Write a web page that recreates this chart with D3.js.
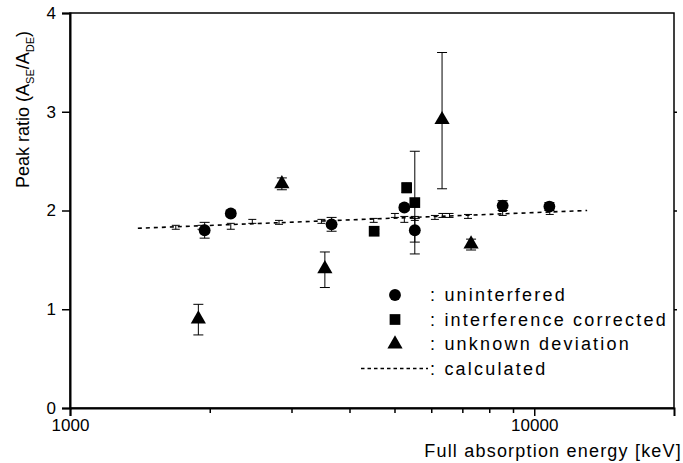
<!DOCTYPE html>
<html>
<head>
<meta charset="utf-8">
<script src="https://cdn.jsdelivr.net/npm/d3@7"></script>
<style>
  body { margin: 0; background: #fff; }
  svg text { font-family: "Liberation Sans", Arial, sans-serif; fill: #000; }
</style>
</head>
<body>
<svg width="683" height="463"></svg>
<script>
// measured points
const unintE   = [1950, 2220, 3660, 5250, 5530, 8550, 10780];
const unintY   = [1.80, 1.97, 1.86, 2.03, 1.80, 2.05, 2.04];
const unintErr = [0.08, 0.03, 0.07, 0.03, 0.12, 0.05, 0.04];

const corrE   = [4520, 5310, 5530];
const corrY   = [1.79, 2.23, 2.08];
const corrErr = [0.02, 0.05, 0.52];

const unknE     = [1890, 2860, 3540, 6330, 7310];
const unknY     = [0.90, 2.27, 1.41, 2.92, 1.66];
const unknErrLo = [0.16, 0.06, 0.19, 0.70, 0.06];
const unknErrHi = [0.15, 0.06, 0.17, 0.68, 0.05];

// calculated values
const calcE   = [1690, 1920, 2220, 2470, 2820, 3480, 4510, 5010, 5250, 5530, 6110, 6340, 6570, 7200, 8550, 10800];
const calcY   = [1.83, 1.83, 1.84, 1.89, 1.88, 1.89, 1.90, 1.95, 1.91, 1.92, 1.93, 1.95, 1.95, 1.94, 1.97, 1.98];
const calcErr = [0.02, 0.02, 0.03, 0.02, 0.02, 0.02, 0.02, 0.02, 0.03, 0.02, 0.02, 0.02, 0.02, 0.02, 0.02, 0.02];
const calcLineE = [1400, 13000];
const calcLineY = [1.82, 2.00];

const xTickVals = [1000, 10000];
const xMinorVals = [2000, 3000, 4000, 5000, 6000, 7000, 8000, 9000];
const yTickVals = [0, 1, 2, 3, 4];

const legendLabels = [": uninterfered", ": interference corrected", ": unknown deviation", ": calculated"];

const svg = d3.select("svg");
const margin = {top: 13, right: 9, bottom: 55, left: 70};
const width = +svg.attr("width") - margin.left - margin.right;
const height = +svg.attr("height") - margin.top - margin.bottom;
const g = svg.append("g").attr("transform", "translate(" + margin.left + "," + margin.top + ")");

const x = d3.scaleLog().domain([1000, 20000]).range([0, width]);
const y = d3.scaleLinear().domain([0, 4]).range([height, 0]);

// frame
g.append("rect")
    .attr("width", width).attr("height", height)
    .attr("fill", "none").attr("stroke", "#000").attr("stroke-width", 1.5);

// axes
g.append("g").attr("transform", "translate(0," + height + ")")
    .call(d3.axisBottom(x).tickValues(xTickVals).tickFormat(d3.format("d")).tickSize(8).tickPadding(3));
g.append("g").attr("transform", "translate(0," + height + ")")
    .call(d3.axisBottom(x).tickValues(xMinorVals).tickFormat("").tickSize(5))
  .select(".domain").remove();
g.append("g")
    .call(d3.axisLeft(y).tickValues(yTickVals).tickFormat(d3.format("d")).tickSize(8).tickPadding(6));
g.append("g").attr("transform", "translate(" + width + ",0)")
    .call(d3.axisRight(y).tickValues(yTickVals.slice(1, 4)).tickFormat("").tickSize(3))
  .select(".domain").remove();

svg.selectAll(".domain").attr("stroke-width", 2);
svg.selectAll(".tick line").attr("stroke-width", 1.5);
svg.selectAll(".tick text").attr("font-size", 17).attr("font-family", "Liberation Sans, Arial, sans-serif");

// axis titles
svg.append("text")
    .attr("x", 682).attr("y", 457)
    .attr("text-anchor", "end").attr("font-size", 18).attr("letter-spacing", 1.2)
    .text("Full absorption energy [keV]");

const yl = svg.append("text")
    .attr("transform", "translate(29,188) rotate(-90)")
    .attr("font-size", 18);
yl.append("tspan").text("Peak ratio (A");
yl.append("tspan").attr("font-size", 11).attr("dy", 5).text("SE");
yl.append("tspan").attr("dy", -5).text("/A");
yl.append("tspan").attr("font-size", 11).attr("dy", 5).text("DE");
yl.append("tspan").attr("dy", -5).text(")");

// calculated line
const line = d3.line().x(function(d) { return x(d[0]); }).y(function(d) { return y(d[1]); });
g.append("path")
    .datum(d3.zip(calcLineE, calcLineY))
    .attr("fill", "none").attr("stroke", "#000")
    .attr("stroke-width", 1.6).attr("stroke-dasharray", "4,4")
    .attr("d", line);

function errorBars(E, V, lo, hi, capW) {
  const eb = g.append("g").attr("stroke", "#000").attr("stroke-width", 1);
  E.forEach(function(e, i) {
    const cx = x(e), y0 = y(V[i] - lo[i]), y1 = y(V[i] + hi[i]);
    eb.append("line").attr("x1", cx).attr("x2", cx).attr("y1", y0).attr("y2", y1);
    eb.append("line").attr("x1", cx - capW / 2).attr("x2", cx + capW / 2).attr("y1", y0).attr("y2", y0);
    eb.append("line").attr("x1", cx - capW / 2).attr("x2", cx + capW / 2).attr("y1", y1).attr("y2", y1);
  });
}

errorBars(calcE, calcY, calcErr, calcErr, 8);
errorBars(unintE, unintY, unintErr, unintErr, 10);
errorBars(corrE, corrY, corrErr, corrErr, 10);
errorBars(unknE, unknY, unknErrLo, unknErrHi, 10);

const circ = d3.symbol().type(d3.symbolCircle).size(110);
const sq = d3.symbol().type(d3.symbolSquare).size(115);
const tri = d3.symbol().type(d3.symbolTriangle).size(100);

function markers(E, V, sym) {
  g.append("g").selectAll("path")
      .data(d3.zip(E, V))
      .enter().append("path")
      .attr("d", sym)
      .attr("fill", "#000")
      .attr("transform", function(d) { return "translate(" + x(d[0]) + "," + y(d[1]) + ")"; });
}
markers(unintE, unintY, circ);
markers(corrE, corrY, sq);
markers(unknE, unknY, tri);

// legend
const leg = svg.append("g");
const syms = [circ, sq, tri];
legendLabels.forEach(function(lbl, i) {
  const ly = 295 + i * 24.5;
  if (i < 3) {
    leg.append("path").attr("d", syms[i]).attr("fill", "#000")
        .attr("transform", "translate(395," + ly + ")");
  } else {
    leg.append("line").attr("x1", 361).attr("x2", 428).attr("y1", ly).attr("y2", ly)
        .attr("stroke", "#000").attr("stroke-width", 1.3).attr("stroke-dasharray", "3.5,3");
  }
  leg.append("text").attr("x", 430).attr("y", ly + 6)
      .attr("font-size", 18).attr("letter-spacing", 2.2)
      .text(lbl);
});
</script>
</body>
</html>
